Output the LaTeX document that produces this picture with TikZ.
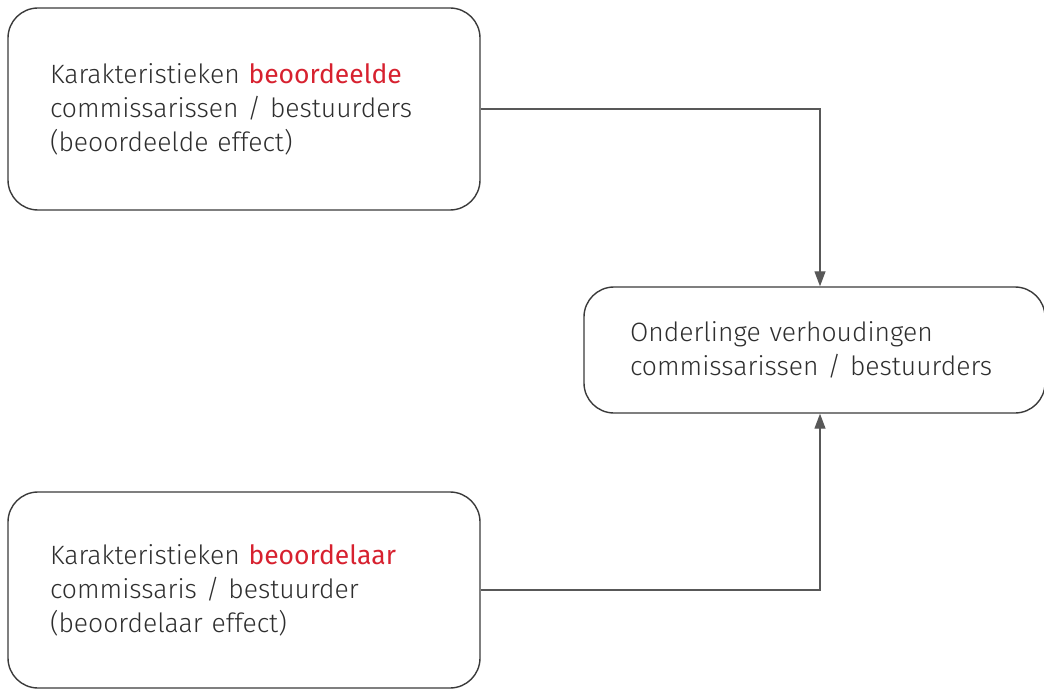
\documentclass[tikz,border=0pt]{standalone}
\usepackage{fontspec}
\setmainfont{Fira Sans}[UprightFont={* Light}]
\newfontfamily\nadruk{Fira Sans}
\usepackage{xcolor}
\usetikzlibrary{arrows.meta, positioning, calc}

\definecolor{rood}{HTML}{D7212F}
\definecolor{tekst}{HTML}{2E2E2E}
\definecolor{lijn}{HTML}{3A3A3A}

\newcommand{\rood}[1]{\textcolor{rood}{\nadruk #1}}

\tikzset{
    kader/.style={draw=lijn, line width=1.4pt, rounded corners=30pt, text=tekst,
        align=left, font=\fontsize{26.5}{34}\selectfont},
    verbind/.style={draw=lijn!85, line width=1.3pt, -{Triangle[length=15pt, width=11pt]}}
}

\begin{document}
\begin{tikzpicture}[x=1pt, y=-1pt]
    \useasboundingbox (0, 0) rectangle (1044, 690);

    \node[kader, minimum width=472pt, minimum height=202pt, inner xsep=42pt, text width=388pt] (beoordeelde) at (244, 109)
        {Karakteristieken \rood{beoordeelde}\\commissarissen / bestuurders\\(beoordeelde effect)};
    \node[kader, minimum width=472pt, minimum height=196pt, inner xsep=42pt, text width=388pt] (beoordelaar) at (244, 590)
        {Karakteristieken \rood{beoordelaar}\\commissaris / bestuurder\\(beoordelaar effect)};
    \node[kader, minimum width=461pt, minimum height=126pt, inner xsep=46pt, text width=369pt] (verhouding) at (814.5, 350)
        {Onderlinge verhoudingen\\commissarissen / bestuurders};

    \draw[verbind] (beoordeelde.east) -| ([xshift=5.5pt]verhouding.north);
    \draw[verbind] (beoordelaar.east) -| ([xshift=5.5pt]verhouding.south);
\end{tikzpicture}
\end{document}
